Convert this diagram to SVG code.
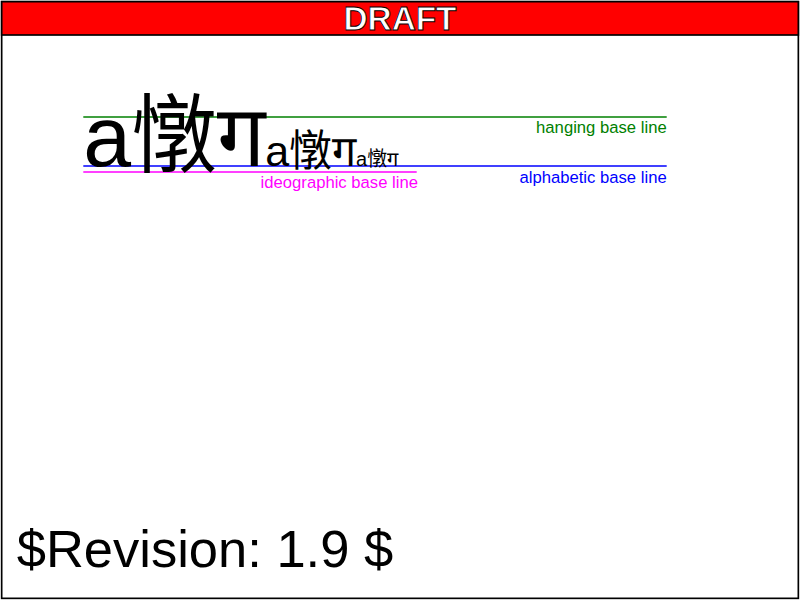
<svg xmlns="http://www.w3.org/2000/svg" width="800" height="600" viewBox="0 0 800 600">
<style>
.lbl{font-family:"Liberation Sans",Arial,sans-serif;font-size:16.67px;text-anchor:end}
.main{font-family:"Liberation Sans","Noto Sans CJK SC",sans-serif;fill:#000}
.bl{stroke-width:1.67;fill:none}
</style>
<rect width="800" height="600" fill="#fff"/>
<g id="baselines">
<line class="bl" x1="83.3" y1="117" x2="666.7" y2="117" stroke="#008000"/>
<line class="bl" x1="83.3" y1="166" x2="666.7" y2="166" stroke="#0000FF"/>
<line class="bl" x1="83.3" y1="172" x2="416.7" y2="172" stroke="#FF00FF"/>
</g>
<g id="labels">
<text class="lbl" x="666.7" y="133.3" fill="#008000">hanging base line</text>
<text class="lbl" x="666.7" y="183.3" fill="#0000FF">alphabetic base line</text>
<text class="lbl" x="418" y="188.3" fill="#FF00FF">ideographic base line</text>
</g>
<g id="sample">
<text class="main" x="83.3" y="166" font-size="86">a&#x619E;&#x0917;<tspan font-size="43">a&#x619E;&#x0917;</tspan><tspan font-size="20">a&#x619E;&#x0917;</tspan></text>
</g>
<g id="revision">
<text x="16.7" y="566.7" font-family="'Liberation Sans',Arial,sans-serif" font-size="52.5" fill="#000">$Revision: 1.9 $</text>
</g>
<g id="test-frame">
<rect x="1.67" y="1.67" width="796.67" height="596.67" fill="none" stroke="#000" stroke-width="1.67"/>
</g>
<g id="draft-watermark">
<rect x="1.67" y="1.67" width="796.67" height="33.33" fill="#FF0000" stroke="#000" stroke-width="1.67"/>
<text x="400" y="30" font-family="'Liberation Sans',Arial,sans-serif" font-weight="bold" font-size="33.33" text-anchor="middle" fill="#fff" stroke="#000" stroke-width="0.83">DRAFT</text>
</g>
</svg>
